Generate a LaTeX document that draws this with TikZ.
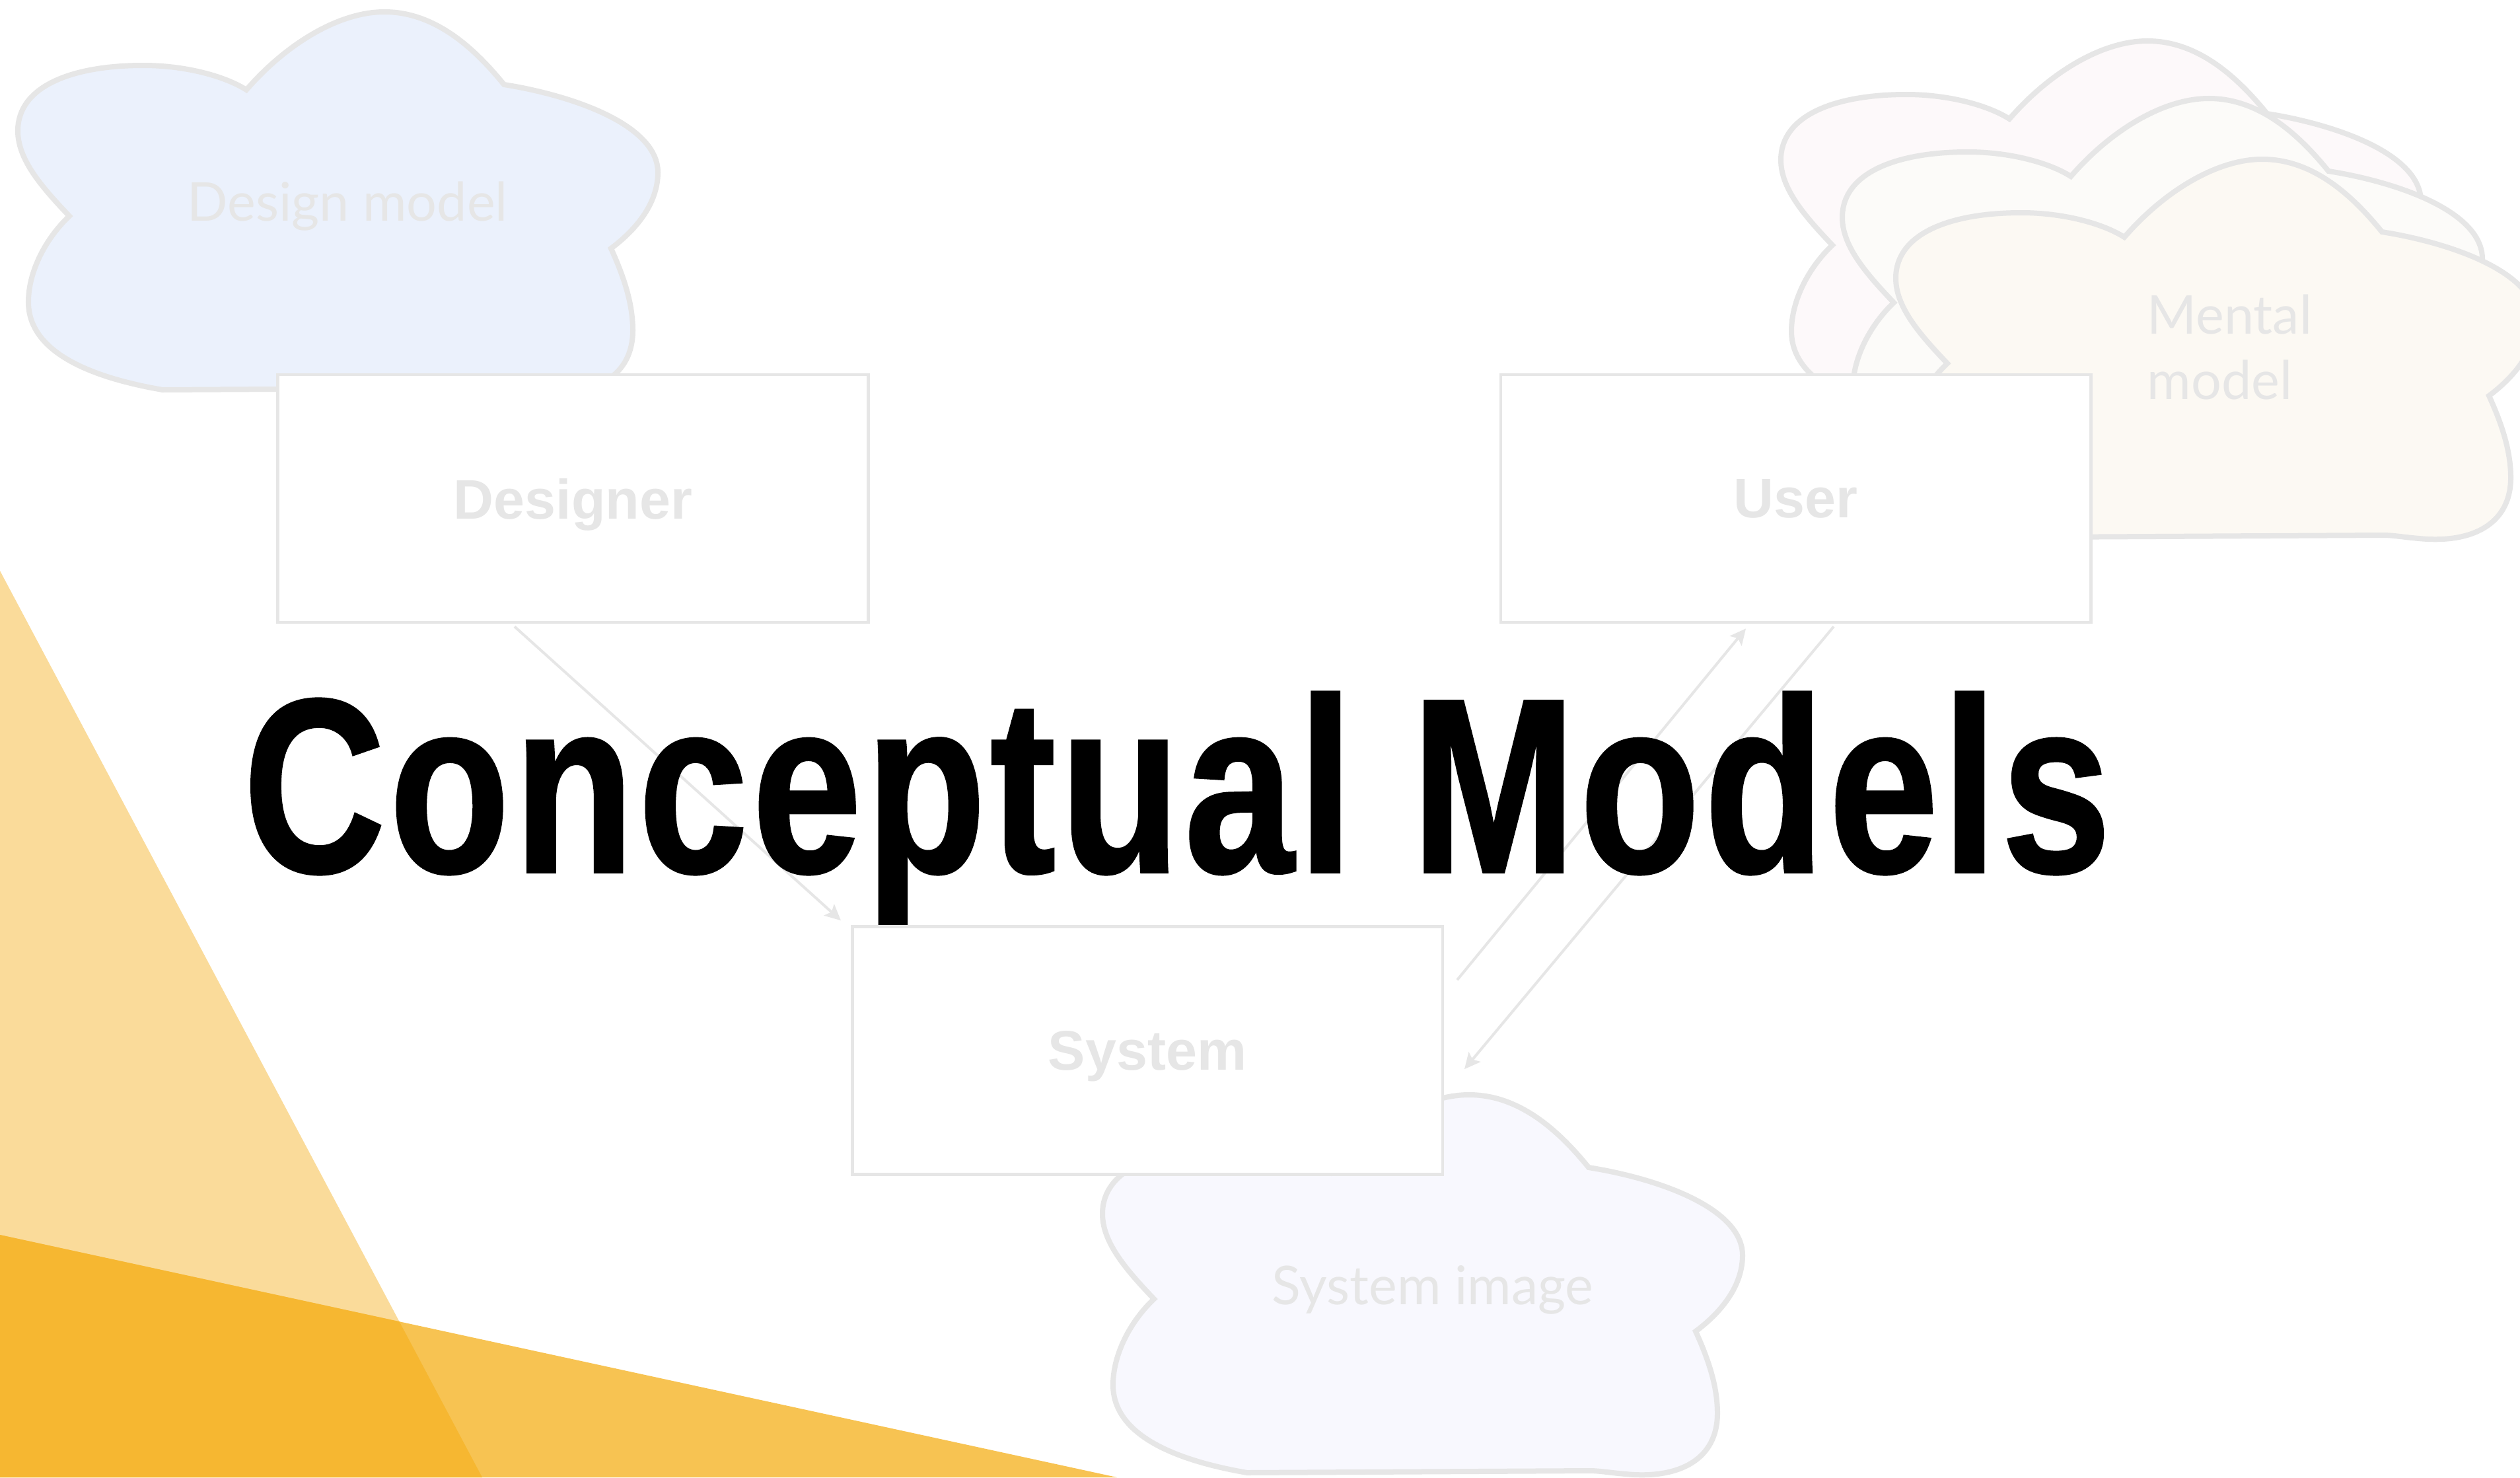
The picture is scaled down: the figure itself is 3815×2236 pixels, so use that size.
\documentclass[tikz,border=0pt]{standalone}
\usepackage{fontspec}
\usetikzlibrary{arrows.meta,calc}
\newfontfamily\titlefont{Liberation Sans}[FakeStretch=0.79,LetterSpace=1.8,FakeBold=1]
\newfontfamily\labelfont{Liberation Sans}
\newfontfamily\cloudfont{Lato}
\definecolor{linegray}{HTML}{E6E6E6}
\definecolor{designfill}{HTML}{EBF1FC}
\definecolor{mentalA}{HTML}{FDF9FA}
\definecolor{mentalB}{HTML}{FCFBF9}
\definecolor{mentalC}{HTML}{FCF9F3}
\definecolor{sysfill}{HTML}{F8F8FE}
\definecolor{ylight}{HTML}{FADB9A}
\definecolor{ymid}{HTML}{F7C352}
\definecolor{ydark}{HTML}{F6B731}
\tikzset{
  cloudpic/.pic={
    \path[pic actions] (373,136) .. controls (430,70) and (510,18) .. (582,18)
      .. controls (660,18) and (720,75) .. (763,128)
      .. controls (870,145) and (996,190) .. (996,261)
      .. controls (996,310) and (960,350) .. (925,376)
      .. controls (945,420) and (958,460) .. (958,500)
      .. controls (958,570) and (900,600) .. (819,592)
      .. controls (795,590) and (780,587) .. (764,587)
      -- (246,590)
      .. controls (130,570) and (43,530) .. (43,457)
      .. controls (43,410) and (70,360) .. (105,327)
      .. controls (60,280) and (27,240) .. (27,198)
      .. controls (27,130) and (110,99) .. (217,99)
      .. controls (280,99) and (340,115) .. (373,136) -- cycle;
  },
  cloudline/.style={draw=linegray, line width=0.08cm, line join=miter},
  boxnode/.style={draw=linegray, fill=white, line width=0.045cm, minimum width=8.93cm,
    minimum height=3.75cm, inner sep=0pt, text=linegray, text depth=0pt,
    font=\labelfont\bfseries\fontsize{24}{28}\selectfont},
  cloudtext/.style={text=linegray, inner sep=0pt, font=\cloudfont\fontsize{23}{27.9}\selectfont},
  arr/.style={draw=linegray, line width=0.04cm, -{Stealth[length=0.24cm,width=0.23cm,inset=0.05cm]}},
}
\begin{document}
\begin{tikzpicture}[x=0.01cm,y=-0.01cm]
\useasboundingbox (0,0) rectangle (3815,2236);
\clip (0,0) rectangle (3815,2236);
\fill[white] (0,0) rectangle (3815,2236);
% yellow shapes
\fill[ylight] (0,864) -- (730,2236) -- (0,2236) -- cycle;
\fill[ymid] (0,1869) -- (1691,2236) -- (0,2236) -- cycle;
\fill[ydark] (0,1869) -- (604.5,2000.2) -- (730,2236) -- (0,2236) -- cycle;
% clouds
\pic[cloudline, fill=designfill] at (0,0) {cloudpic};
\pic[cloudline, fill=mentalA] at (2669,44) {cloudpic};
\pic[cloudline, fill=mentalB] at (2762,131) {cloudpic};
\pic[cloudline, fill=mentalC] at (2843,223) {cloudpic};
\pic[cloudline, fill=sysfill] at (1642,1639) {cloudpic};
\node[cloudtext, anchor=base] (dmodel) at (526,334) {Design model};
\node[cloudtext, anchor=base] (simage) at (2169,1974) {System image};
\node[cloudtext, anchor=base west, align=left] (mmodel) at (3250,604) {Mental\\model};
% boxes
\node[boxnode] (designer) at (867.5,754.5) {Designer};
\node[boxnode] (user) at (2718.5,754.5) {User};
\node[boxnode] (system) at (1737,1590) {System};
% arrows
\coordinate (a1s) at ($(designer.south)+(-88.5,4)$);
\coordinate (a1e) at ($(system.north west)+(-15,-7)$);
\coordinate (a2s) at ($(system.north east)+(20,83)$);
\coordinate (a2e) at ($(user.south)+(-75.5,7)$);
\coordinate (a3s) at ($(user.south)+(57.5,4)$);
\coordinate (a3e) at ($(system.north east)+(31,218)$);
\draw[arr] (a1s) -- (a1e);
\draw[arr] (a2s) -- (a2e);
\draw[arr] (a3s) -- (a3e);
% title
\node[anchor=base west, inner sep=0pt, text=black,
  font=\titlefont\bfseries\fontsize{107}{110}\selectfont] (title) at (368,1320) {Conceptual Models};
\end{tikzpicture}
\end{document}
